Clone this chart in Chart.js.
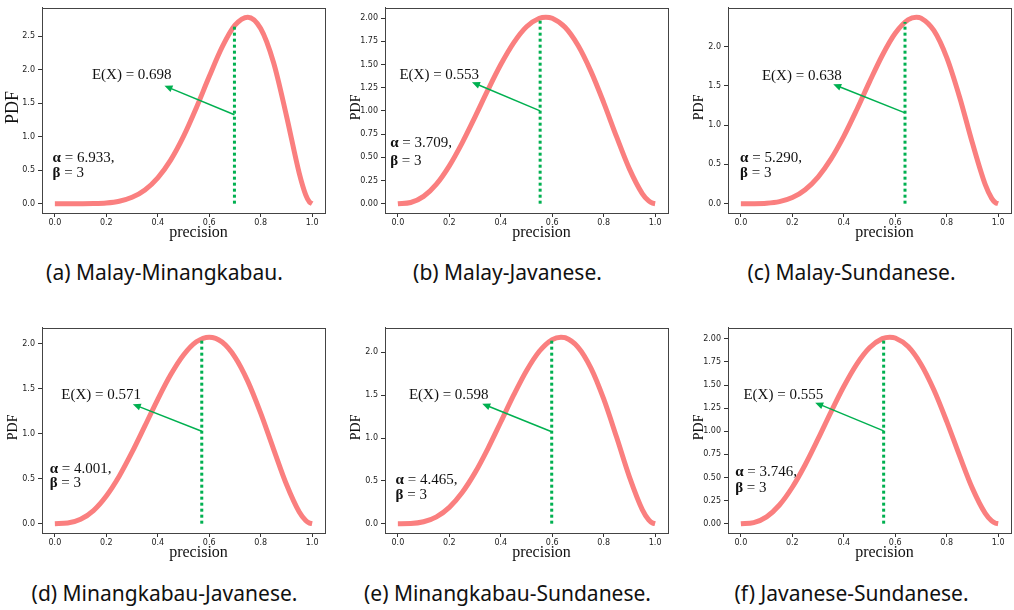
<!DOCTYPE html>
<html>
<head>
<meta charset="utf-8">
<script src="https://cdn.jsdelivr.net/npm/chart.js@4.4.1/dist/chart.umd.min.js"></script>
<style>
  body { margin: 0; background: #fff; width: 1014px; height: 610px; position: relative; overflow: hidden; }
  .panel { position: absolute; width: 328px; height: 245px; }
  .cap { position: absolute; width: 343px; text-align: center; font: 21px/21px "Noto Sans"; color: #111; white-space: nowrap; }
</style>
</head>
<body>
<canvas id="c0" class="panel" width="328" height="245" style="left:0;top:0"></canvas>
<canvas id="c1" class="panel" width="328" height="245" style="left:343px;top:0"></canvas>
<canvas id="c2" class="panel" width="328" height="245" style="left:686px;top:0"></canvas>
<canvas id="c3" class="panel" width="328" height="245" style="left:0;top:320px"></canvas>
<canvas id="c4" class="panel" width="328" height="245" style="left:343px;top:320px"></canvas>
<canvas id="c5" class="panel" width="328" height="245" style="left:686px;top:320px"></canvas>
<div id="caps"></div>
<script>
// x grid shared by every panel
const precision = [0, 0.05, 0.1, 0.15, 0.2, 0.25, 0.3, 0.35, 0.4, 0.45, 0.5,
                   0.55, 0.6, 0.65, 0.7, 0.75, 0.8, 0.85, 0.9, 0.95, 0.975, 0.99, 1.0];

// PDF values
const pdfMalayMinangkabau = [0, 0.000, 0.0002, 0.002, 0.011, 0.037, 0.095, 0.205, 0.386, 0.651, 1.005,
                             1.433, 1.898, 2.336, 2.664, 2.785, 2.615, 2.108, 1.315, 0.453, 0.132, 0.023, 0];
const pdfMalayJavanese = [0, 0.013, 0.079, 0.211, 0.408, 0.656, 0.936, 1.226, 1.500, 1.734, 1.907,
                          1.999, 1.999, 1.901, 1.707, 1.429, 1.090, 0.722, 0.375, 0.109, 0.029, 0.005, 0];
const pdfMalaySundanese = [0, 0.0003, 0.005, 0.026, 0.078, 0.178, 0.339, 0.567, 0.857, 1.193, 1.550,
                           1.890, 2.169, 2.341, 2.363, 2.206, 1.863, 1.359, 0.772, 0.243, 0.068, 0.012, 0];
const pdfMinangJavanese = [0, 0.007, 0.049, 0.146, 0.308, 0.528, 0.795, 1.088, 1.384, 1.656, 1.877,
                           2.024, 2.076, 2.021, 1.854, 1.584, 1.230, 0.830, 0.438, 0.129, 0.035, 0.006, 0];
const pdfMinangSundanese = [0, 0.002, 0.022, 0.080, 0.191, 0.364, 0.596, 0.877, 1.187, 1.500, 1.786,
                            2.013, 2.150, 2.172, 2.062, 1.819, 1.456, 1.011, 0.547, 0.165, 0.045, 0.008, 0];
const pdfJavaneseSundanese = [0, 0.012, 0.074, 0.202, 0.394, 0.638, 0.917, 1.208, 1.485, 1.725, 1.904,
                              2.003, 2.010, 1.917, 1.726, 1.449, 1.107, 0.736, 0.382, 0.111, 0.030, 0.005, 0];

// peak of each curve
const peakX = [0.748, 0.575, 0.682, 0.600, 0.634, 0.579];
const peakY = [2.785, 2.011, 2.375, 2.076, 2.178, 2.019];

const alphas = [6.933, 3.709, 5.290, 4.001, 4.465, 3.746];
const betas = [3, 3, 3, 3, 3, 3];
const expected = [0.698, 0.553, 0.638, 0.571, 0.598, 0.555];
const pdfAtExpected = [2.655, 2.002, 2.312, 2.058, 2.146, 2.008];

const captions = ['(a) Malay-Minangkabau.', '(b) Malay-Javanese.', '(c) Malay-Sundanese.',
                  '(d) Minangkabau-Javanese.', '(e) Minangkabau-Sundanese.', '(f) Javanese-Sundanese.'];

const xTickLabels = ['0.0', '0.2', '0.4', '0.6', '0.8', '1.0'];
const yTicksStep5 = ['0.0', '0.5', '1.0', '1.5', '2.0', '2.5'];
const yTicksTo2 = ['0.0', '0.5', '1.0', '1.5', '2.0'];
const yTicksQuarter = ['0.00', '0.25', '0.50', '0.75', '1.00', '1.25', '1.50', '1.75', '2.00'];
const yTickLabels = [yTicksStep5, yTicksQuarter, yTicksTo2, yTicksTo2, yTicksTo2, yTicksQuarter];

const series = [pdfMalayMinangkabau, pdfMalayJavanese, pdfMalaySundanese,
                pdfMinangJavanese, pdfMinangSundanese, pdfJavaneseSundanese];

// annotation placement (data coords): E(X) text left/middle, arrow head, alpha text left, alpha/beta rows
const annot = [
  { tx: 0.144, ty: 1.93, hx: 0.426, hy: 1.76, ax: -0.009, ay: 0.68, by: 0.45, pdfSize: 18 },
  { tx: 0.006, ty: 1.40, hx: 0.288, hy: 1.31, ax: -0.030, ay: 0.65, by: 0.46, pdfSize: 14 },
  { tx: 0.082, ty: 1.64, hx: 0.359, hy: 1.52, ax: -0.003, ay: 0.58, by: 0.39, pdfSize: 14 },
  { tx: 0.025, ty: 1.44, hx: 0.303, hy: 1.33, ax: -0.020, ay: 0.61, by: 0.45, pdfSize: 14 },
  { tx: 0.043, ty: 1.51, hx: 0.328, hy: 1.40, ax: -0.009, ay: 0.51, by: 0.33, pdfSize: 14 },
  { tx: 0.010, ty: 1.40, hx: 0.289, hy: 1.31, ax: -0.022, ay: 0.56, by: 0.39, pdfSize: 14 }
];

const GREEN = '#00b050';
const SERIF = '"Liberation Serif", "Times New Roman", serif';

const overlay = {
  id: 'overlay',
  afterDraw(chart) {
    const i = chart.options.panelIndex;
    const a = annot[i];
    const ctx = chart.ctx;
    const xs = chart.scales.x, ys = chart.scales.y;
    const ca = chart.chartArea;
    ctx.save();
    // frame
    ctx.strokeStyle = '#444';
    ctx.lineWidth = 1;
    ctx.strokeRect(Math.round(ca.left) + 0.5, Math.round(ca.top) + 0.5,
                   Math.round(ca.right - ca.left), Math.round(ca.bottom - ca.top));

    // arrow from the expected-value line to the label
    const sx = xs.getPixelForValue(expected[i]);
    const sy = ys.getPixelForValue(pdfAtExpected[i] / 2);
    const hx = xs.getPixelForValue(a.hx);
    const hy = ys.getPixelForValue(a.hy);
    const ang = Math.atan2(hy - sy, hx - sx);
    ctx.strokeStyle = GREEN;
    ctx.fillStyle = GREEN;
    ctx.lineWidth = 1.5;
    ctx.beginPath();
    ctx.moveTo(sx, sy);
    ctx.lineTo(hx - 6 * Math.cos(ang), hy - 6 * Math.sin(ang));
    ctx.stroke();
    ctx.beginPath();
    ctx.moveTo(hx, hy);
    ctx.lineTo(hx - 8 * Math.cos(ang) + 3.5 * Math.sin(ang), hy - 8 * Math.sin(ang) - 3.5 * Math.cos(ang));
    ctx.lineTo(hx - 8 * Math.cos(ang) - 3.5 * Math.sin(ang), hy - 8 * Math.sin(ang) + 3.5 * Math.cos(ang));
    ctx.closePath();
    ctx.fill();

    // texts
    ctx.fillStyle = '#111';
    ctx.textBaseline = 'middle';
    ctx.textAlign = 'left';
    ctx.font = '15px ' + SERIF;
    ctx.fillText('E(X) = ' + expected[i].toFixed(3), xs.getPixelForValue(a.tx), ys.getPixelForValue(a.ty) + 1);

    const ax = xs.getPixelForValue(a.ax);
    const rows = [['α', ' = ' + alphas[i].toFixed(3) + ',', a.ay], ['β', ' = ' + betas[i], a.by]];
    rows.forEach(([sym, rest, yv]) => {
      const py = ys.getPixelForValue(yv);
      ctx.font = 'bold 15px ' + SERIF;
      ctx.fillText(sym, ax, py);
      const w = ctx.measureText(sym).width;
      ctx.font = '15px ' + SERIF;
      ctx.fillText(rest, ax + w, py);
    });

    // axis titles
    ctx.textAlign = 'center';
    ctx.font = '16px ' + SERIF;
    ctx.fillText('precision', (ca.left + ca.right) / 2 + 15, ca.bottom + 20);
    ctx.save();
    ctx.translate(ca.left - 29, (ca.top + ca.bottom) / 2 - 3);
    ctx.rotate(-Math.PI / 2);
    ctx.font = a.pdfSize + 'px ' + SERIF;
    ctx.fillText('PDF', 0, 0);
    ctx.restore();
    ctx.restore();
  }
};

function buildPoints(i) {
  const pts = precision.map((x, k) => ({ x: x, y: series[i][k] }));
  if (!precision.some(x => Math.abs(x - peakX[i]) < 0.01)) {
    pts.push({ x: peakX[i], y: peakY[i] });
    pts.sort((p, q) => p.x - q.x);
  }
  return pts;
}

const tickFont = { family: '"DejaVu Sans"', size: 8 };

for (let i = 0; i < 6; i++) {
  const top = Math.max(peakY[i], ...series[i]);
  const labels = yTickLabels[i];
  new Chart(document.getElementById('c' + i), {
    type: 'line',
    data: {
      datasets: [
        {
          data: buildPoints(i),
          borderColor: '#fa7f7f',
          borderWidth: 5,
          pointRadius: 0,
          cubicInterpolationMode: 'monotone',
          order: 2
        },
        {
          data: [{ x: expected[i], y: 0 }, { x: expected[i], y: pdfAtExpected[i] }],
          borderColor: GREEN,
          borderWidth: 3,
          borderDash: [3, 3],
          borderCapStyle: 'butt',
          pointRadius: 0,
          order: 1
        }
      ]
    },
    options: {
      panelIndex: i,
      animation: false,
      responsive: false,
      layout: { padding: { top: 4, right: 3, left: 0, bottom: 0 } },
      plugins: { legend: { display: false }, tooltip: { enabled: false } },
      scales: {
        x: {
          type: 'linear',
          min: -0.05,
          max: 1.05,
          afterBuildTicks: ax => { ax.ticks = xTickLabels.map(s => ({ value: parseFloat(s) })); },
          afterFit: ax => { ax.height = 32; },
          ticks: {
            callback: (v, idx) => xTickLabels[idx],
            font: tickFont, color: '#222', padding: 1, maxRotation: 0, autoSkip: false
          },
          grid: { drawOnChartArea: false, tickLength: 4, tickColor: '#333' },
          border: { color: '#444' }
        },
        y: {
          type: 'linear',
          min: -0.05 * top,
          max: 1.05 * top,
          afterBuildTicks: ax => { ax.ticks = labels.map(s => ({ value: parseFloat(s) })); },
          afterFit: ax => { ax.width = 42; },
          ticks: {
            callback: (v, idx) => labels[idx],
            font: tickFont, color: '#222', padding: 3, autoSkip: false
          },
          grid: { drawOnChartArea: false, tickLength: 4, tickColor: '#333' },
          border: { color: '#444' }
        }
      }
    },
    plugins: [overlay]
  });
}

// sub-figure captions
const capLeft = [-7, 336, 680];
const capTop = [262, 583];
captions.forEach((txt, i) => {
  const d = document.createElement('div');
  d.className = 'cap';
  d.textContent = txt;
  d.style.left = capLeft[i % 3] + 'px';
  d.style.top = capTop[Math.floor(i / 3)] + 'px';
  document.getElementById('caps').appendChild(d);
});
</script>
</body>
</html>
